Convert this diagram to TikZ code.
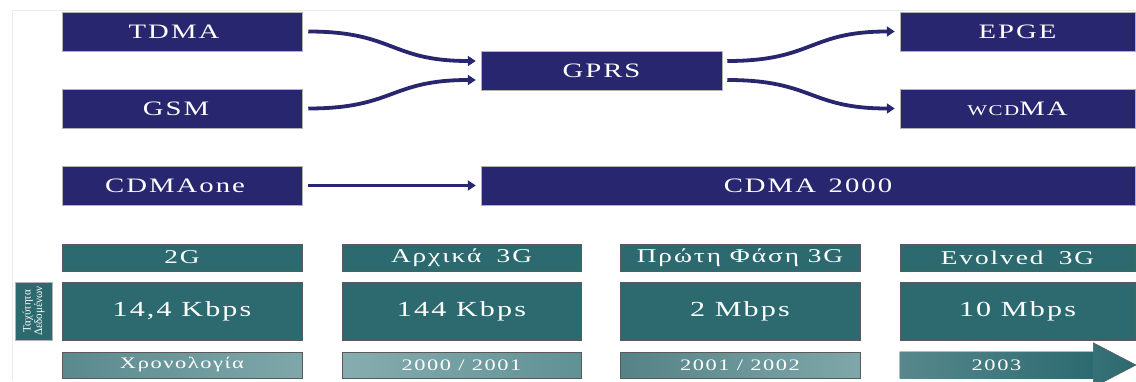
\documentclass[tikz,border=0pt]{standalone}
\usepackage{fontspec}
\setmainfont{Liberation Serif}[FakeStretch=1.4,LetterSpace=10]
\newfontfamily\sidefont{Liberation Serif}[FakeStretch=0.95]
\usetikzlibrary{arrows.meta,positioning,calc,backgrounds}
\definecolor{netnavy}{HTML}{27266F}
\definecolor{netteal}{HTML}{2C6A70}
\definecolor{netlite}{HTML}{5F9195}
\definecolor{netedge}{HTML}{5A5A5A}

\begin{document}
\begin{tikzpicture}[
    x=1pt,y=1pt,
    sys/.style  = {fill=netnavy, draw=black!30, line width=0.5pt, text=white,
                   minimum height=39pt, inner sep=0pt,
                   font=\fontsize{20.5}{22}\selectfont},
    fl/.style   = {-{Triangle[length=8pt,width=10pt]}, netnavy, line width=3.8pt,
                   looseness=1.3},
    gen/.style  = {fill=netteal, draw=netedge, line width=0.5pt, text=white,
                   minimum height=27pt, inner sep=0pt,
                   font=\fontsize{19.5}{21}\selectfont},
    deb/.style  = {fill=netteal, draw=netedge, line width=0.5pt, text=white,
                   minimum height=58pt, inner sep=0pt,
                   font=\fontsize{21.5}{23}\selectfont},
    chr/.style  = {left color=netlite!80!white, right color=netlite,
                   draw=netedge, line width=0.5pt, text=white,
                   minimum height=26pt, inner sep=0pt,
                   font=\fontsize{16}{18}\selectfont},
    lat/.style  = {fill=netteal, draw=black!30, line width=0.5pt, text=white,
                   align=center, inner sep=0pt, minimum width=58pt,
                   minimum height=37pt, font=\sidefont\fontsize{11.5}{11.5}\selectfont},
  ]
  \useasboundingbox (0,0) rectangle (1136,381);
  \draw[black!8, line width=0.8pt] (12,0) |- (1136,371);

  % technologies
  \node[sys, minimum width=240pt] (tdma)  at (182,349.5)   {TDMA\hspace*{16pt}};
  \node[sys, minimum width=240pt] (gsm)   at (182,272.5)   {GSM\hspace*{12pt}};
  \node[sys, minimum width=240pt] (cdone) at (182,195.5)   {CDMAone\hspace*{14pt}};
  \node[sys, minimum width=241pt] (gprs)  at (601.5,310.5) {GPRS};
  \node[sys, minimum width=235pt] (epge)  at (1017.5,349.5) {EPGE};
  \node[sys, minimum width=235pt] (wcdma) at (1017.5,272.5)
       {{\fontsize{15}{16}\selectfont WCD}MA};
  \node[sys, minimum width=654pt] (cdtwo) at (808,195.5)   {CDMA\, 2000};

  \draw[fl] ([xshift=6pt]tdma.east) to[out=0,in=180] ([xshift=-5pt,yshift=9.5pt]gprs.west);
  \draw[fl] ([xshift=6pt]gsm.east) to[out=0,in=180] ([xshift=-5pt,yshift=-9.5pt]gprs.west);
  \draw[fl] ([xshift=6pt]cdone.east) -- ([xshift=-5pt]cdtwo.west);
  \draw[fl] ([xshift=5pt,yshift=9.5pt]gprs.east) to[out=0,in=180] ([xshift=-5pt]epge.west);
  \draw[fl] ([xshift=5pt,yshift=-9.5pt]gprs.east) to[out=0,in=180] ([xshift=-5pt]wcdma.west);

  % generations
  \node[gen, minimum width=240pt] (g1) at (182,123.5)   {2G};
  \node[gen, minimum width=239pt] (g2) at (461.5,123.5) {Αρχικά\,\, 3G};
  \node[gen, minimum width=240pt] (g3) at (740,123.5)   {Πρώτη Φάση 3G};
  \node[gen, minimum width=235pt] (g4) at (1017.5,123.5) {Evolved\,\, 3G};

  \node[lat, rotate=90] (tax) at (33.5,70) {Ταχύτητα\\Δεδομένων};
  \node[deb, minimum width=240pt] (d1) at (182,70)    {14,4 Kbps};
  \node[deb, minimum width=239pt] (d2) at (461.5,70)  {144 Kbps};
  \node[deb, minimum width=240pt] (d3) at (740,70)    {2 Mbps};
  \node[deb, minimum width=235pt] (d4) at (1017.5,70) {10 Mbps};

  \node[chr, minimum width=240pt, left color=netlite!95!black,
        right color=netlite!80!white] (y1) at (182,16) {Χρονολογία};
  \node[chr, minimum width=239pt, left color=netlite!75!white,
        right color=netlite] (y2) at (461.5,16) {2000 / 2001};
  \node[chr, minimum width=240pt, left color=netlite!90!black,
        right color=netlite!80!white] (y3) at (740,16) {2001 / 2002};
  \node[chr, minimum width=193pt, draw=none, shading=axis, left color=netteal!80!white,
        right color=netteal] (y4) at (996.5,16) {2003};
  \begin{scope}[on background layer]
    \shade[left color=netteal!75!white, right color=netteal, draw=netedge, line width=0.5pt]
      (y4.south west) -- (y4.north west) -- (y4.north east) -- ++(0,9)
      -- (1136,16) -- ($(y4.south east)+(0,-9)$) -- (y4.south east) -- cycle;
  \end{scope}
\end{tikzpicture}
\end{document}
